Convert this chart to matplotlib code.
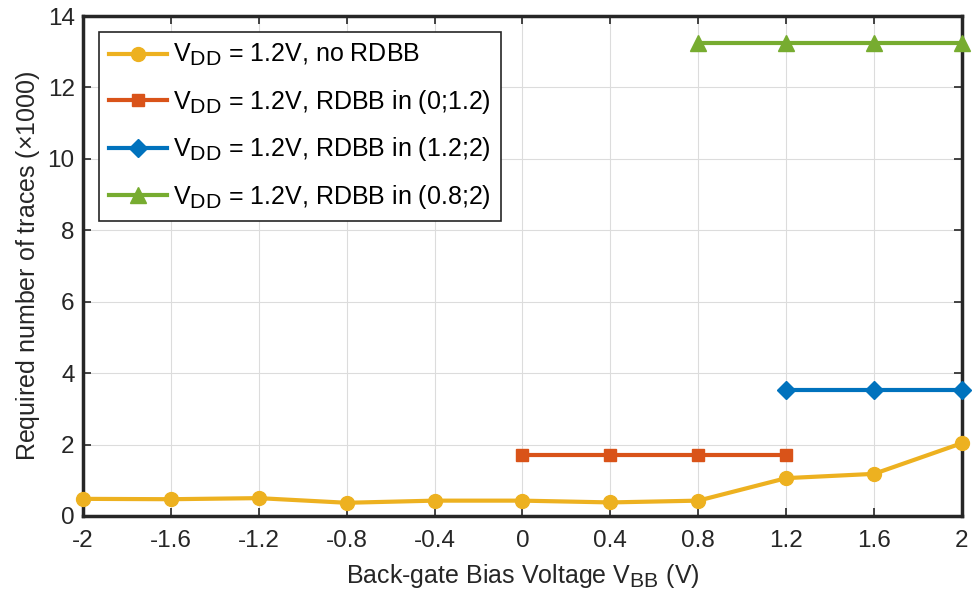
import matplotlib.pyplot as plt
import matplotlib._mathtext as mathtext_internal
import numpy as np

plt.rcParams['font.family'] = ['Liberation Sans', 'DejaVu Sans']
plt.rcParams['mathtext.fontset'] = 'custom'
plt.rcParams['mathtext.rm'] = 'Liberation Sans'
# MATLAB-style subscripts are only a little smaller than the main text
mathtext_internal.SHRINK_FACTOR = 0.85

vbb = [-2, -1.6, -1.2, -0.8, -0.4, 0, 0.4, 0.8, 1.2, 1.6, 2]
no_rdbb = [0.48, 0.47, 0.50, 0.37, 0.43, 0.43, 0.38, 0.43, 1.06, 1.18, 2.04]

vbb_a = [0, 0.4, 0.8, 1.2]
rdbb_a = [1.7, 1.7, 1.7, 1.7]

vbb_b = [1.2, 1.6, 2]
rdbb_b = [3.53, 3.53, 3.53]

vbb_c = [0.8, 1.2, 1.6, 2]
rdbb_c = [13.25, 13.25, 13.25, 13.25]

labels = [r'$\mathregular{V_{DD}}$ = 1.2V, no RDBB',
          r'$\mathregular{V_{DD}}$ = 1.2V, RDBB in (0;1.2)',
          r'$\mathregular{V_{DD}}$ = 1.2V, RDBB in (1.2;2)',
          r'$\mathregular{V_{DD}}$ = 1.2V, RDBB in (0.8;2)']

dark = '#262626'

fig = plt.figure(figsize=(9.72, 6.04), dpi=100)
ax = fig.add_axes([0.0854, 0.1457, 0.9043, 0.8278])

ax.plot(vbb, no_rdbb, color='#EDB120', lw=3, marker='o', ms=10, label=labels[0], clip_on=False, zorder=5)
ax.plot(vbb_a, rdbb_a, color='#D95319', lw=3, marker='s', ms=9, label=labels[1], clip_on=False, zorder=5)
ax.plot(vbb_b, rdbb_b, color='#0072BD', lw=3, marker='D', ms=9, label=labels[2], clip_on=False, zorder=5)
ax.plot(vbb_c, rdbb_c, color='#77AC30', lw=3, marker='^', ms=12, label=labels[3], clip_on=False, zorder=5)

ax.set_xlim(-2, 2)
ax.set_ylim(0, 14)
ax.set_xticks(np.arange(-2, 2.01, 0.4))
ax.set_xticklabels(['-2', '-1.6', '-1.2', '-0.8', '-0.4', '0', '0.4', '0.8', '1.2', '1.6', '2'])
ax.set_yticks(range(0, 15, 2))
ax.grid(True, color='#dcdcdc', lw=0.8)
ax.set_axisbelow(True)
ax.tick_params(direction='in', top=True, right=True, labelsize=17.5, colors=dark, length=6, width=1.2)
ax.tick_params(axis='x', pad=10)
ax.tick_params(axis='y', pad=6)
for s in ax.spines.values():
    s.set_linewidth(2.5)
    s.set_color(dark)

ax.set_xlabel(r'Back-gate Bias Voltage $\mathregular{V_{BB}}$ (V)', fontsize=18, color=dark, labelpad=7)
ax.set_ylabel(r'Required number of traces ($\times$1000)', fontsize=18, color=dark, labelpad=4)

leg = ax.legend(loc='upper left', fontsize=18, frameon=True, fancybox=False,
                handlelength=2.3, handletextpad=0.25, borderpad=0.4, labelspacing=0.78,
                bbox_to_anchor=(0.0, 1.0), borderaxespad=0.65)
leg.get_frame().set_edgecolor(dark)
leg.get_frame().set_linewidth(1.2)
leg.get_frame().set_alpha(1)

fig.savefig('out.png', dpi=100)
